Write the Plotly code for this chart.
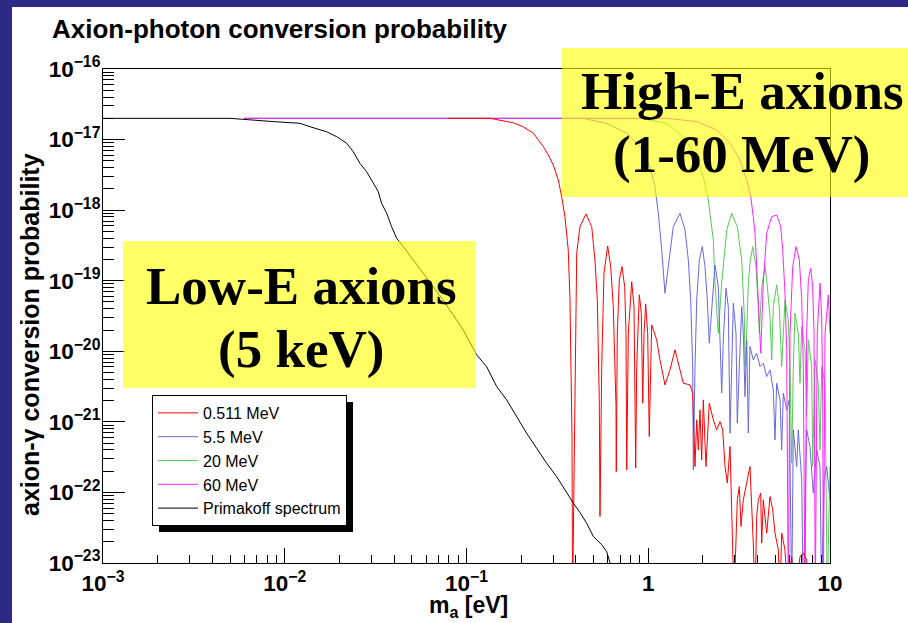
import plotly.graph_objects as go

# ---------------- data ----------------
mass_0511 = [0.0791, 0.1346, 0.181, 0.2047, 0.2333, 0.2646, 0.2818, 0.3002, 0.320, 0.334,
             0.348, 0.363, 0.371, 0.3744, 0.3806, 0.3834, 0.3955, 0.404, 0.421, 0.4545,
             0.4887, 0.509, 0.5244, 0.5378, 0.5425, 0.5546, 0.5707, 0.598, 0.6214, 0.6422,
             0.6646, 0.667, 0.6756, 0.693, 0.717, 0.742, 0.7544, 0.761, 0.777, 0.811,
             0.835, 0.853, 0.864, 0.893, 0.916, 0.932, 0.948, 0.968, 0.993, 1.013,
             1.032, 1.045, 1.113, 1.160, 1.236, 1.317, 1.404, 1.495, 1.559, 1.697,
             1.756, 1.808, 1.848, 1.886, 1.926, 1.968, 2.009, 2.078, 2.167, 2.280,
             2.380, 2.482, 2.568, 2.645, 2.723, 2.818, 2.879, 2.964, 3.040, 3.090,
             3.170, 3.238, 3.334, 3.482, 3.553, 3.629, 3.784, 3.867, 3.951, 4.032,
             4.156, 4.209, 4.295, 4.484, 4.676, 4.839, 4.982, 5.195, 5.308, 5.423,
             5.654, 5.873, 6.155, 6.419, 6.839, 7.131, 7.444, 7.762]
prob_0511 = [2.0e-17, 2.0e-17, 1.73e-17, 1.52e-17, 1.23e-17, 7.94e-18, 6.05e-18, 4.37e-18, 2.68e-18, 1.55e-18,
             8.09e-19, 2.73e-19, 5.35e-20, 6.07e-21, 6.19e-22, 3e-24, 1.05e-20, 2.45e-19, 5.83e-19, 8.83e-19,
             5.83e-19, 1.97e-19, 5.35e-20, 2.05e-21, 4.56e-23, 6.07e-21, 1.28e-19, 3.11e-19, 1.58e-19, 4.30e-20,
             1.65e-21, 1.98e-22, 1.80e-20, 1.03e-19, 1.58e-19, 8.24e-20, 1.80e-20, 2.09e-22, 1.80e-20, 9.70e-20,
             4.30e-20, 2.21e-22, 6.07e-21, 6.30e-20, 3.47e-20, 1.84e-21, 1.80e-20, 4.69e-20, 1.80e-20, 6.19e-22,
             6.07e-21, 2.37e-20, 1.45e-20, 7.55e-21, 3.34e-21, 5.46e-21, 1.05e-20, 5.46e-21, 3.53e-21, 3.34e-21,
             2.55e-21, 2.33e-22, 1.07e-21, 4.01e-22, 1.48e-21, 2.90e-22, 2.05e-21, 2.33e-22, 1.84e-21, 1.07e-21,
             7.71e-22, 1.01e-21, 7.71e-22, 2.33e-22, 1.36e-22, 4.47e-22, 7.85e-23, 3e-24, 2.13e-23, 7.85e-23,
             1.21e-22, 3.29e-23, 7.85e-23, 1.36e-22, 1.87e-22, 2.33e-22, 1.91e-23, 3e-24, 4.56e-23, 7.85e-23,
             9.77e-23, 1.91e-23, 7.85e-23, 2.65e-23, 8.75e-23, 5.68e-23, 2.65e-23, 1.54e-23, 3e-24, 2.65e-23,
             1.54e-23, 3e-24, 1.24e-23, 3e-24, 1.24e-23, 1.38e-23, 1.11e-23, 3e-24]

mass_5p5 = [0.00597, 0.4375, 0.5907, 0.761, 0.901, 1.022, 1.089, 1.136, 1.186, 1.221,
            1.236, 1.289, 1.373, 1.495, 1.593, 1.661, 1.712, 1.756, 1.770, 1.808,
            1.848, 1.910, 1.984, 2.052, 2.113, 2.167, 2.214, 2.280, 2.329, 2.429,
            2.482, 2.536, 2.588, 2.678, 2.757, 2.818, 2.879, 2.938, 3.040, 3.090,
            3.170, 3.267, 3.334, 3.407, 3.482, 3.553, 3.629, 3.784, 3.951, 4.120,
            4.295, 4.484, 4.676, 4.876, 4.982, 5.089, 5.308, 5.423, 5.535, 5.778,
            5.971, 6.155, 6.283, 6.558, 6.692, 6.988, 7.131, 7.444, 7.762, 8.09,
            8.45, 8.81, 9.0, 9.27, 9.59, 10.0]
prob_5p5 = [2e-17, 2e-17, 1.70e-17, 1.23e-17, 7.94e-18, 4.13e-18, 2.15e-18, 9.04e-19, 2.73e-19, 8.24e-20,
            6.65e-20, 1.58e-19, 5.83e-19, 9.04e-19, 5.25e-19, 1.97e-19, 5.35e-20, 6.07e-21, 2.09e-22, 6.07e-21,
            5.35e-20, 1.97e-19, 3.04e-19, 1.58e-19, 5.35e-20, 1.30e-20, 3.10e-20, 7.41e-20, 1.67e-19, 8.24e-20,
            1.45e-20, 2.55e-21, 1.45e-20, 7.83e-20, 4.30e-20, 6.92e-22, 6.07e-21, 4.80e-20, 1.80e-20, 9.59e-22,
            6.07e-21, 4.30e-20, 1.80e-20, 2.28e-21, 1.45e-20, 6.92e-22, 1.17e-20, 7.55e-21, 9.39e-21, 6.07e-21,
            6.78e-21, 4.39e-21, 5.46e-21, 2.84e-21, 5.56e-22, 3.53e-21, 2.05e-21, 4.01e-22, 2.55e-21, 1.48e-21,
            2.05e-21, 3e-24, 7.71e-22, 2.33e-22, 7.71e-22, 1.51e-22, 3e-24, 7.71e-22, 4.47e-22, 9.77e-23,
            4.01e-22, 2.33e-22, 3e-24, 1.51e-22, 2.33e-22, 7.85e-23]

mass_20 = [0.00597, 0.901, 1.263, 1.559, 1.848, 2.009, 2.140, 2.234, 2.280, 2.329,
           2.429, 2.536, 2.702, 2.879, 3.090, 3.267, 3.378, 3.407, 3.482, 3.553,
           3.629, 3.755, 3.915, 4.032, 4.083, 4.209, 4.389, 4.484, 4.676, 4.777,
           4.876, 5.089, 5.26, 5.423, 5.535, 5.654, 5.896, 6.026, 6.155, 6.283,
           6.419, 6.692, 6.839, 6.988, 7.285, 7.444, 7.597, 7.93, 8.03, 8.27,
           8.62, 8.81, 9.0, 9.39, 9.66, 10.0]
prob_20 = [2e-17, 2e-17, 1.70e-17, 1.10e-17, 5.73e-18, 2.99e-18, 1.39e-18, 5.83e-19, 3.78e-19, 9.22e-20,
           1.80e-20, 9.22e-20, 5.25e-19, 9.04e-19, 5.83e-19, 1.97e-19, 3.10e-20, 6.07e-21, 1.80e-20, 9.22e-20,
           1.77e-19, 3.04e-19, 1.58e-19, 4.30e-20, 1.80e-20, 8.24e-20, 1.58e-19, 1.03e-19, 3.10e-20, 7.55e-21,
           4.30e-20, 8.72e-20, 4.30e-20, 6.07e-21, 1.80e-20, 5.35e-20, 2.79e-20, 6.07e-21, 2.60e-22, 6.07e-21,
           3.47e-20, 1.80e-20, 3.53e-21, 2.24e-20, 1.05e-20, 1.19e-21, 1.45e-20, 6.07e-21, 2.33e-22, 7.55e-21,
           3.53e-21, 4.01e-22, 6.07e-21, 3.53e-21, 3e-24, 2.33e-22]

mass_60 = [0.00597, 1.263, 1.848, 2.380, 2.818, 3.198, 3.482, 3.662, 3.784, 3.867,
           3.951, 4.032, 4.156, 4.295, 4.484, 4.777, 5.089, 5.356, 5.493, 5.654,
           5.778, 5.896, 6.026, 6.235, 6.50, 6.78, 6.988, 7.131, 7.285, 7.444,
           7.597, 7.83, 8.03, 8.17, 8.30, 8.51, 8.81, 9.0, 9.12, 9.19,
           9.39, 9.79, 10.0]
prob_60 = [2e-17, 2e-17, 1.80e-17, 1.37e-17, 8.87e-18, 5.14e-18, 2.68e-18, 1.55e-18, 8.09e-19, 4.71e-19,
           1.58e-19, 5.35e-20, 9.39e-21, 9.22e-20, 4.71e-19, 8.09e-19, 8.55e-19, 5.83e-19, 2.73e-19, 6.65e-20,
           1.05e-20, 3e-24, 1.80e-20, 1.58e-19, 3.04e-19, 1.97e-19, 5.35e-20, 6.07e-21, 3e-24, 1.80e-20,
           1.03e-19, 1.50e-19, 8.24e-20, 1.80e-20, 3e-24, 1.80e-20, 9.22e-20, 3.10e-20, 2.05e-21, 3e-24,
           1.80e-20, 6.30e-20, 1.80e-20]

mass_prim = [0.001, 0.005, 0.0086, 0.01213, 0.01377, 0.0170, 0.0193, 0.0219, 0.0238, 0.0259,
             0.0282, 0.0307, 0.0327, 0.0341, 0.0364, 0.0387, 0.0413, 0.0449, 0.0509, 0.0578,
             0.0743, 0.0959, 0.1138, 0.129, 0.1466, 0.1663, 0.189, 0.214, 0.243, 0.276,
             0.313, 0.356, 0.387, 0.421, 0.458, 0.499, 0.555, 0.590, 0.617, 0.625]
prob_prim = [2.0e-17, 2.0e-17, 1.80e-17, 1.70e-17, 1.52e-17, 1.29e-17, 1.10e-17, 8.87e-18, 6.75e-18, 4.61e-18,
             3.51e-18, 2.40e-18, 1.83e-18, 1.25e-18, 9.04e-19, 5.83e-19, 4.00e-19, 3.04e-19, 1.97e-19, 1.28e-19,
             5.35e-20, 2.01e-20, 8.89e-21, 6.07e-21, 3.16e-21, 2.05e-21, 1.17e-21, 6.92e-22, 4.24e-22, 2.60e-22,
             1.68e-22, 9.77e-23, 7.05e-23, 5.19e-23, 3.67e-23, 2.37e-23, 1.81e-23, 1.46e-23, 1.0e-23, 8e-24]

series_names = ["0.511 MeV", "5.5 MeV", "20 MeV", "60 MeV", "Primakoff spectrum"]
title_text = "Axion-photon conversion probability"
ytitle_text = "axion-γ conversion probability"
xtitle_text = "m<sub>a</sub> [eV]"
x_range_log = [-3, 1]
y_range_log = [-23, -16]

# ---------------- geometry helpers (pixel -> paper) ----------------
W, H = 908, 623
ML, MR, MT, MB = 103, 78, 69, 60
PW = W - ML - MR
PH = H - MT - MB


def px_x(px):
    return (px - ML) / PW


def px_y(py):
    return (H - MB - py) / PH


SANS = "Liberation Sans, Arial, Helvetica, sans-serif"
SERIF = "Liberation Serif, Times New Roman, serif"
SLIDE_BLUE = "#2d2a86"

fig = go.Figure()

# draw order: bottom first, Primakoff on top
traces = [
    (mass_20, prob_20, series_names[2], "#55cc55", 3),
    (mass_5p5, prob_5p5, series_names[1], "#6868e6", 2),
    (mass_60, prob_60, series_names[3], "#ff22ff", 4),
    (mass_0511, prob_0511, series_names[0], "#ff0000", 1),
    (mass_prim, prob_prim, series_names[4], "#000000", 5),
]
for xs, ys, name, color, rank in traces:
    fig.add_trace(go.Scatter(x=xs, y=ys, mode="lines", name=name,
                             line=dict(color=color, width=1),
                             legendrank=rank, hoverinfo="skip"))

axis_common = dict(
    type="log", dtick=1, exponentformat="power", showexponent="all",
    ticks="inside", tickcolor="black", tickwidth=1,
    showline=True, linecolor="black", linewidth=1, mirror=True,
    showgrid=False, zeroline=False,
    tickfont=dict(family=SANS, size=18, color="black", weight="bold"),
)

fig.update_xaxes(range=x_range_log, ticklen=15,
                 minor=dict(ticks="inside", ticklen=8, dtick="D1", tickcolor="black", showgrid=False),
                 ticklabelstandoff=1, **axis_common)
fig.update_yaxes(range=y_range_log, ticklen=22,
                 minor=dict(ticks="inside", ticklen=11, dtick="D1", tickcolor="black", showgrid=False),
                 ticklabelstandoff=-2, **axis_common)

# legend box (plotly-sized) and its drop shadow
LEG_L, LEG_T = 152, 395
shapes = [
    # slide background strips
    dict(type="rect", xref="paper", yref="paper", x0=px_x(-2), x1=px_x(12), y0=px_y(H + 2), y1=px_y(-2),
         fillcolor=SLIDE_BLUE, line=dict(width=0), layer="above"),
    dict(type="rect", xref="paper", yref="paper", x0=px_x(-2), x1=px_x(W + 2), y0=px_y(7), y1=px_y(-2),
         fillcolor=SLIDE_BLUE, line=dict(width=0), layer="above"),
    # legend shadow
    dict(type="rect", xref="paper", yref="paper", x0=px_x(LEG_L + 7), x1=px_x(LEG_L + 201),
         y0=px_y(LEG_T + 137), y1=px_y(LEG_T + 7),
         fillcolor="black", line=dict(width=0), layer="above"),
    # yellow highlight boxes (semi-transparent)
    dict(type="rect", xref="paper", yref="paper", x0=px_x(123), x1=px_x(476), y0=px_y(388), y1=px_y(241),
         fillcolor="rgba(255,255,0,0.6)", line=dict(width=0), layer="above"),
    dict(type="rect", xref="paper", yref="paper", x0=px_x(562), x1=px_x(W + 2), y0=px_y(197), y1=px_y(48),
         fillcolor="rgba(255,255,0,0.6)", line=dict(width=0), layer="above"),
]

big = dict(family=SERIF, size=53, color="black", weight="bold")
annotations = [
    dict(text=title_text, xref="paper", yref="paper", x=px_x(50), y=px_y(29),
         xanchor="left", yanchor="middle", showarrow=False,
         font=dict(family=SANS, size=26, color="black", weight="bold")),
    dict(text=ytitle_text, xref="paper", yref="paper", x=px_x(30), y=px_y(335),
         xanchor="center", yanchor="middle", textangle=-90, showarrow=False,
         font=dict(family=SANS, size=25, color="black", weight="bold")),
    dict(text=xtitle_text, xref="paper", yref="paper", x=px_x(468), y=px_y(606),
         xanchor="center", yanchor="middle", showarrow=False,
         font=dict(family=SANS, size=23, color="black", weight="bold")),
    dict(text="High-E axions", xref="paper", yref="paper", x=px_x(742), y=px_y(91),
         xanchor="center", yanchor="middle", showarrow=False, font=big),
    dict(text="(1-60 MeV)", xref="paper", yref="paper", x=px_x(742), y=px_y(154),
         xanchor="center", yanchor="middle", showarrow=False, font=big),
    dict(text="Low-E axions", xref="paper", yref="paper", x=px_x(301), y=px_y(286),
         xanchor="center", yanchor="middle", showarrow=False, font=big),
    dict(text="(5 keV)", xref="paper", yref="paper", x=px_x(301), y=px_y(349),
         xanchor="center", yanchor="middle", showarrow=False, font=big),
]

fig.update_layout(
    width=W, height=H, autosize=False,
    margin=dict(l=ML, r=MR, t=MT, b=MB, pad=0),
    paper_bgcolor="white", plot_bgcolor="white",
    shapes=shapes, annotations=annotations,
    showlegend=True,
    legend=dict(x=px_x(LEG_L), y=px_y(LEG_T), xanchor="left", yanchor="top",
                bgcolor="white", bordercolor="black", borderwidth=1,
                font=dict(family=SANS, size=16, color="black"),
                itemwidth=40, tracegroupgap=0),
)

fig.write_html("out.html", config={"displayModeBar": False},
               post_script="document.body.style.margin='0px';")
